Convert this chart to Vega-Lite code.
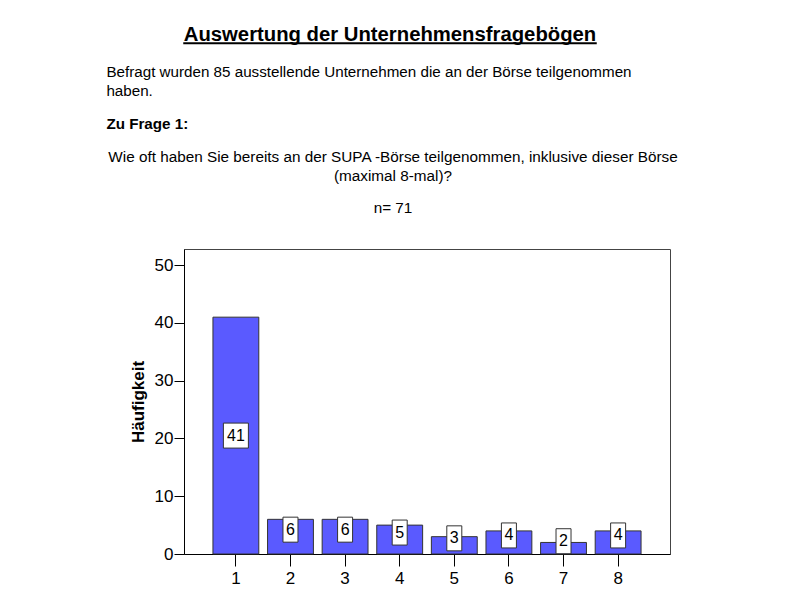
{
  "$schema": "https://vega.github.io/schema/vega-lite/v6.json",
  "background": "white",
  "padding": {"left": 106, "top": 23, "right": 10, "bottom": 5},
  "spacing": 18,
  "vconcat": [
    {
      "width": 412,
      "height": 0.5,
      "view": {"stroke": "black", "strokeWidth": 1.5},
      "title": {
        "text": "Auswertung der Unternehmensfragebögen",
        "fontSize": 20.3,
        "fontWeight": "bold",
        "anchor": "middle",
        "baseline": "alphabetic",
        "offset": -18
      },
      "data": {"values": []},
      "mark": "text",
      "encoding": {}
    },
    {
      "title": {
        "text": ["Befragt wurden 85 ausstellende Unternehmen die an der Börse teilgenommen", "haben."],
        "subtitle": "Zu Frage 1:",
        "anchor": "start",
        "fontSize": 15.2,
        "fontWeight": "normal",
        "lineHeight": 19,
        "subtitleFontSize": 15.2,
        "subtitleFontWeight": "bold",
        "subtitleColor": "black",
        "subtitlePadding": 18,
        "dx": -1,
        "offset": 18
      },
      "vconcat": [
        {
          "width": 486,
          "height": 305,
          "view": {"stroke": "#444", "strokeWidth": 1},
          "title": {
            "text": ["Wie oft haben Sie bereits an der SUPA -Börse teilgenommen, inklusive dieser Börse", "(maximal 8-mal)?"],
            "subtitle": "n= 71",
            "anchor": "middle",
            "frame": "group",
            "dx": -34,
            "fontSize": 15.3,
            "fontWeight": "normal",
            "lineHeight": 19,
            "subtitleFontSize": 15.3,
            "subtitleColor": "black",
            "subtitlePadding": 16,
            "offset": 33
          },
          "data": {
            "values": [
              {"mal": "1", "value": 41},
              {"mal": "2", "value": 6},
              {"mal": "3", "value": 6},
              {"mal": "4", "value": 5},
              {"mal": "5", "value": 3},
              {"mal": "6", "value": 4},
              {"mal": "7", "value": 2},
              {"mal": "8", "value": 4}
            ]
          },
          "encoding": {
            "x": {
              "field": "mal",
              "type": "ordinal",
              "scale": {"paddingInner": 0.16, "paddingOuter": 0.53},
              "axis": {
                "title": null,
                "labelAngle": 0,
                "tickSize": 12,
                "labelFontSize": 17,
                "labelPadding": 4
              }
            }
          },
          "layer": [
            {
              "mark": {"type": "bar", "color": "#5a5aff", "stroke": "#333", "strokeWidth": 1},
              "encoding": {
                "y": {
                  "field": "value",
                  "type": "quantitative",
                  "scale": {"domain": [0, 52.8], "nice": false},
                  "axis": {
                    "title": "Häufigkeit",
                    "values": [0, 10, 20, 30, 40, 50],
                    "grid": false,
                    "tickSize": 10,
                    "labelFontSize": 17,
                    "labelPadding": 1,
                    "titleFontSize": 17,
                    "titleFontWeight": "bold",
                    "titlePadding": 7
                  }
                }
              }
            },
            {
              "mark": {
                "type": "point",
                "filled": true,
                "fill": "white",
                "stroke": "#333",
                "strokeWidth": 1,
                "opacity": 1,
                "size": 625,
                "yOffset": {"expr": "datum.value < 10 ? -7 : 0"}
              },
              "encoding": {
                "y": {"field": "value", "type": "quantitative", "stack": "zero", "bandPosition": 0.5},
                "shape": {
                  "condition": {"test": "datum.value >= 10", "value": "M-1,-1H1V1H-1Z"},
                  "value": "M-0.6,-1H0.6V1H-0.6Z"
                }
              }
            },
            {
              "mark": {
                "type": "text",
                "fontSize": 16,
                "color": "black",
                "dy": {"expr": "datum.value < 10 ? -7 : 0"}
              },
              "encoding": {
                "y": {"field": "value", "type": "quantitative", "stack": "zero", "bandPosition": 0.5},
                "text": {"field": "value", "type": "quantitative"}
              }
            }
          ]
        }
      ]
    }
  ],
  "config": {
    "font": "Liberation Sans",
    "view": {"stroke": null},
    "title": {"color": "black", "font": "Liberation Sans", "subtitleFont": "Liberation Sans"},
    "axis": {
      "labelFont": "Liberation Sans",
      "titleFont": "Liberation Sans",
      "labelColor": "black",
      "titleColor": "black",
      "domainColor": "black",
      "tickColor": "black",
      "domainWidth": 1,
      "tickWidth": 1
    }
  }
}
